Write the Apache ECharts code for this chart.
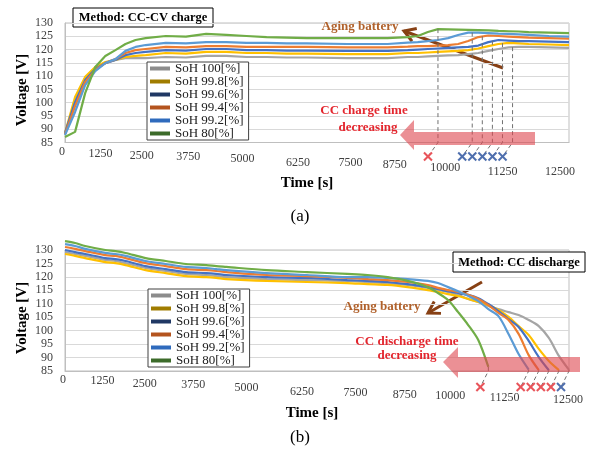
<!DOCTYPE html>
<html>
<head>
<meta charset="utf-8">
<script src="https://cdn.jsdelivr.net/npm/echarts@6/dist/echarts.min.js"></script>
<style>
html, body { margin: 0; padding: 0; background: #fff; }
#chart { width: 589px; height: 449px; }
</style>
</head>
<body>
<div id="chart"></div>
<script>
const sohNames = ['SoH 100[%]', 'SoH 99.8[%]', 'SoH 99.6[%]', 'SoH 99.4[%]', 'SoH 99.2[%]', 'SoH 80[%]'];

// (a) CC-CV charge
const tCharge = [0, 250, 500, 750, 1000, 1250, 1500, 1750, 2000, 2500, 3000, 3500, 4000, 4500, 5000, 5500, 6000, 7000, 8000, 8500, 8750, 9000, 9250, 9500, 9750, 10000, 10250, 10500, 10750, 11000, 11250, 11500, 12000, 12500];
const chargeSoH100 = [88.2, 101.0, 109.3, 113.1, 114.9, 116.1, 116.8, 116.8, 116.8, 117.2, 117.0, 117.6, 117.6, 117.2, 117.2, 117.0, 117.0, 116.8, 116.8, 117.2, 117.2, 117.4, 117.6, 117.8, 117.9, 118.3, 118.7, 119.5, 120.2, 120.8, 121.0, 121.0, 120.8, 120.6];
const chargeSoH998 = [88.6, 102.1, 109.7, 113.4, 115.3, 116.1, 117.2, 117.6, 117.9, 118.7, 118.5, 119.1, 119.1, 118.7, 118.7, 118.5, 118.5, 118.3, 118.3, 118.7, 118.7, 118.9, 119.1, 119.3, 119.5, 119.8, 120.4, 121.3, 122.1, 122.5, 122.3, 122.1, 121.9, 121.7];
const chargeSoH996 = [88.6, 100.2, 108.5, 112.7, 114.9, 116.1, 117.9, 118.7, 119.1, 119.8, 119.6, 120.2, 120.2, 119.8, 119.8, 119.6, 119.6, 119.5, 119.5, 119.8, 120.0, 120.2, 120.4, 120.6, 120.8, 121.0, 121.5, 122.8, 123.6, 123.4, 123.2, 123.2, 123.0, 122.8];
const chargeSoH994 = [88.2, 98.7, 107.8, 112.3, 114.9, 116.4, 118.7, 119.8, 120.2, 121.0, 120.8, 121.3, 121.3, 121.0, 121.0, 121.0, 121.0, 120.8, 120.8, 121.1, 121.3, 121.3, 121.5, 121.7, 122.1, 123.2, 124.7, 125.3, 125.1, 124.9, 124.7, 124.5, 124.3, 124.1];
const chargeSoH992 = [87.8, 96.5, 106.6, 111.9, 114.9, 116.4, 119.5, 121.0, 121.7, 122.5, 122.3, 122.8, 122.8, 122.5, 122.5, 122.3, 122.3, 122.1, 122.1, 122.6, 122.8, 123.2, 123.6, 124.3, 125.5, 126.4, 126.4, 126.2, 126.0, 125.9, 125.7, 125.5, 125.1, 124.9];
const chargeSoH80 = [87.1, 89.0, 103.6, 113.4, 117.6, 119.8, 122.1, 123.6, 124.3, 125.1, 124.9, 125.9, 125.5, 125.1, 124.7, 124.5, 124.3, 124.3, 124.3, 124.7, 125.1, 126.6, 127.7, 127.6, 127.5, 127.4, 127.3, 127.2, 127.0, 126.9, 126.8, 126.6, 126.4, 126.2];
// end of CC stage, order: 80, 99.2, 99.4, 99.6, 99.8, 100
const chargeKneeTime = [9250, 10100, 10350, 10600, 10850, 11100];
const chargeKneeVolt = [127.7, 126.4, 125.0, 123.3, 122.4, 120.9];

// (b) CC discharge
const tDischarge = [0, 250, 500, 1000, 1250, 1500, 2000, 2500, 3000, 3500, 3750, 4000, 5000, 6000, 7000, 7500, 8000, 8500, 9000, 9250, 9500, 9750, 10000, 10250, 10500, 10750, 11000, 11250, 11500, 11750, 12000, 12250, 12500];
const dischargeSoH100 = [129.2, 128.5, 127.8, 126.3, 125.9, 125.1, 123.3, 122.2, 121.1, 120.7, 120.3, 119.9, 119.2, 118.8, 118.5, 118.1, 117.7, 117.0, 115.9, 115.1, 114.4, 113.3, 111.8, 110.7, 109.2, 108.0, 106.9, 105.8, 104.0, 101.7, 97.3, 90.6, 85.4];
const dischargeSoH998 = [128.5, 127.8, 127.0, 125.5, 125.1, 124.4, 122.5, 121.4, 120.3, 119.9, 119.6, 119.2, 118.5, 118.1, 117.7, 117.3, 117.0, 116.2, 115.1, 114.4, 113.6, 112.9, 111.8, 110.7, 109.5, 107.7, 105.1, 101.7, 98.4, 93.2, 88.7, 85.3];
const dischargeSoH996 = [130.0, 129.2, 128.5, 127.0, 126.6, 125.9, 124.0, 122.9, 121.8, 121.4, 121.1, 120.7, 119.9, 119.6, 118.8, 118.5, 118.1, 117.3, 116.2, 115.5, 114.7, 114.0, 113.3, 112.1, 109.9, 107.3, 104.3, 101.4, 96.2, 90.2, 85.3];
const dischargeSoH994 = [131.1, 130.4, 129.6, 128.1, 127.8, 127.0, 125.1, 124.0, 122.9, 122.5, 122.2, 121.8, 120.7, 120.3, 119.6, 119.2, 118.8, 118.1, 117.0, 115.9, 115.1, 114.4, 113.3, 111.8, 109.5, 106.6, 104.0, 98.8, 90.9, 85.3];
const dischargeSoH992 = [132.2, 131.5, 130.4, 128.9, 128.5, 127.8, 125.9, 124.8, 123.7, 123.3, 122.9, 122.5, 121.4, 120.7, 119.9, 119.9, 119.6, 119.2, 118.5, 117.7, 116.2, 114.7, 112.9, 111.0, 108.0, 105.4, 98.8, 91.3, 85.5];
const dischargeSoH80 = [133.3, 132.6, 131.5, 130.0, 129.6, 128.9, 127.0, 125.9, 124.8, 124.4, 124.0, 123.7, 122.5, 121.8, 121.1, 120.7, 119.9, 118.5, 116.2, 114.0, 111.4, 106.9, 102.1, 96.5, 86.5];
// end of discharge, order: 80, 99.2, 99.4, 99.6, 99.8, 100
const dischargeEndTime = [10500, 11500, 11750, 12000, 12250, 12500];
const dischargeEndVolt = [86.5, 85.5, 85.3, 85.3, 85.3, 85.4];

// styles
const serif = '"Liberation Serif", "Times New Roman", serif';
const lineColors = ['#a5a5a5', '#ffc000', '#4472c4', '#ed7d31', '#5b9bd5', '#70ad47'];
const legendColors = ['#8c8c8c', '#a07c00', '#203864', '#b4541e', '#2f6bbd', '#3c6b2a'];
const red = '#e3262e', blue = '#4f6fae', brown = '#874014';
const chargeMarkColors = ['#e8545a', blue, blue, blue, blue, blue];
const dischargeMarkColors = ['#e8545a', '#e8545a', '#e8545a', '#e8545a', '#e8545a', blue];
// label nudges [left, down] to follow the tilted floor of the original
const topLabelShift = [[3, 0], [15, 2], [24, 4], [28, 5], [24, 7], [19, 11], [17, 11], [23, 13], [23, 16], [16, 20], [9, 20]];
const bottomLabelShift = [[2, 0], [13, 1], [21, 4], [23, 5], [20, 8], [15, 12], [12, 13], [13, 15], [18, 16], [14, 18], [1, 20]];

const chart = echarts.init(document.getElementById('chart'));

function xAxis(g, shifts) {
  const rich = {};
  shifts.forEach(([dx, dy], i) => {
    rich['s' + i] = { fontFamily: serif, fontSize: 12, color: '#404040', padding: [dy, dx * 2, 0, 0] };
  });
  return {
    type: 'value', gridIndex: g, min: 0, max: 12500, interval: 1250,
    axisLine: { lineStyle: { color: '#bfbfbf' } },
    axisTick: { show: false },
    splitLine: { show: false },
    axisLabel: { interval: 0, margin: 3, formatter: v => `{s${Math.round(v / 1250)}|${v}}`, rich }
  };
}
function yAxis(g) {
  return {
    type: 'value', gridIndex: g, min: 85, max: 130, interval: 5,
    axisLine: { show: true, lineStyle: { color: '#bfbfbf' } },
    axisTick: { show: false },
    splitLine: { lineStyle: { color: '#d9d9d9' } },
    axisLabel: { margin: 12, fontFamily: serif, fontSize: 12, color: '#404040' }
  };
}
function lineSeries(g, times, vals, i) {
  return {
    type: 'line', name: sohNames[i], xAxisIndex: g, yAxisIndex: g,
    data: vals.map((v, k) => [times[k], v]),
    showSymbol: false, clip: false, smooth: g === 1 ? 0.3 : false,
    lineStyle: { width: 2.2, color: lineColors[i] },
    itemStyle: { color: lineColors[i] },
    emphasis: { disabled: true }
  };
}
function markSeries(g, times, volts, colors, off) {
  return {
    type: 'custom', xAxisIndex: g, yAxisIndex: g, silent: true, z: 4,
    data: times.map((t, k) => [t, volts[k], k]),
    renderItem: (params, api) => {
      const top = api.coord([api.value(0), api.value(1)]);
      const base = api.coord([api.value(0), 85]);
      const m = [base[0] + off[0], base[1] + off[1]];
      const c = colors[api.value(2)];
      return {
        type: 'group', children: [
          { type: 'polyline', shape: { points: [top, base, m] }, style: { stroke: '#707070', lineWidth: 1, lineDash: [4, 3], fill: null } },
          { type: 'line', shape: { x1: m[0] - 4, y1: m[1] - 4, x2: m[0] + 4, y2: m[1] + 4 }, style: { stroke: c, lineWidth: 2 } },
          { type: 'line', shape: { x1: m[0] - 4, y1: m[1] + 4, x2: m[0] + 4, y2: m[1] - 4 }, style: { stroke: c, lineWidth: 2 } }
        ]
      };
    }
  };
}
function legend(left, top) {
  return {
    orient: 'vertical', left, top, padding: [0, 5, 0, 3], itemGap: 0,
    itemWidth: 20, itemHeight: 4, icon: 'rect',
    backgroundColor: '#fff', borderColor: '#404040', borderWidth: 1,
    textStyle: { fontFamily: serif, fontSize: 13, color: '#202020', lineHeight: 13 },
    data: sohNames.map((n, i) => ({ name: n, itemStyle: { color: legendColors[i], borderWidth: 0 } })),
    selectedMode: false
  };
}
function text(x, y, str, size, color, weight, extra) {
  return Object.assign({
    type: 'text', x, y, z: 20,
    style: { text: str, fontFamily: serif, fontSize: size, fontWeight: weight || 'normal', fill: color, align: 'center', verticalAlign: 'middle' }
  }, extra || {});
}
function box(x, y, w, h, str) {
  return {
    type: 'group', z: 20, children: [
      { type: 'rect', shape: { x, y, width: w, height: h }, style: { fill: '#fff', stroke: '#000', lineWidth: 1 } },
      text(x + w / 2, y + h / 2 + 0.5, str, 12.5, '#000', 'bold')
    ]
  };
}
function arrow(x1, y1, x2, y2) {
  const a = Math.atan2(y2 - y1, x2 - x1), L = 13, s = 0.55;
  const w1 = [x2 - L * Math.cos(a - s), y2 - L * Math.sin(a - s)];
  const w2 = [x2 - L * Math.cos(a + s), y2 - L * Math.sin(a + s)];
  return {
    type: 'group', z: 15, children: [
      { type: 'line', shape: { x1, y1, x2, y2 }, style: { stroke: brown, lineWidth: 3 } },
      { type: 'polyline', shape: { points: [w1, [x2, y2], w2] }, style: { stroke: brown, lineWidth: 3, fill: null } }
    ]
  };
}
const arrowFill = 'rgba(222, 70, 78, 0.6)';

chart.setOption({
  animation: false,
  grid: [
    { left: 65, right: 20, top: 23, height: 119.5, show: true, borderColor: '#bfbfbf', borderWidth: 1 },
    { left: 65, right: 20, top: 250, height: 121, show: true, borderColor: '#bfbfbf', borderWidth: 1 }
  ],
  xAxis: [xAxis(0, topLabelShift), xAxis(1, bottomLabelShift)],
  yAxis: [yAxis(0), yAxis(1)],
  legend: [legend(147, 62), legend(148, 289)],
  series: [
    lineSeries(0, tCharge, chargeSoH100, 0),
    lineSeries(0, tCharge, chargeSoH998, 1),
    lineSeries(0, tCharge, chargeSoH996, 2),
    lineSeries(0, tCharge, chargeSoH994, 3),
    lineSeries(0, tCharge, chargeSoH992, 4),
    lineSeries(0, tCharge, chargeSoH80, 5),
    markSeries(0, chargeKneeTime, chargeKneeVolt, chargeMarkColors, [-10, 14]),
    lineSeries(1, tDischarge, dischargeSoH100, 0),
    lineSeries(1, tDischarge, dischargeSoH998, 1),
    lineSeries(1, tDischarge, dischargeSoH996, 2),
    lineSeries(1, tDischarge, dischargeSoH994, 3),
    lineSeries(1, tDischarge, dischargeSoH992, 4),
    lineSeries(1, tDischarge, dischargeSoH80, 5),
    markSeries(1, dischargeEndTime, dischargeEndVolt, dischargeMarkColors, [-8, 16])
  ],
  graphic: [
    text(22, 90, 'Voltage [V]', 15, '#000', 'bold', { rotation: Math.PI / 2 }),
    text(22, 318, 'Voltage [V]', 15, '#000', 'bold', { rotation: Math.PI / 2 }),
    text(307, 183, 'Time [s]', 15, '#000', 'bold'),
    text(312, 413, 'Time [s]', 15, '#000', 'bold'),
    text(300, 217, '(a)', 17, '#000'),
    text(300, 438, '(b)', 17, '#000'),
    box(73, 8, 140, 19, 'Method: CC-CV charge'),
    box(453, 252, 132, 20, 'Method: CC discharge'),
    // charge annotations
    { type: 'polygon', z: 12, shape: { points: [[535, 132], [414, 132], [414, 120], [400, 135], [414, 150], [414, 145], [535, 145]] }, style: { fill: arrowFill } },
    text(364, 111, 'CC charge time', 13, red, 'bold'),
    text(368, 128, 'decreasing', 13, red, 'bold'),
    arrow(503, 68, 404, 31),
    text(360, 27, 'Aging battery', 13, '#b0612b', 'bold'),
    // discharge annotations
    { type: 'polygon', z: 12, shape: { points: [[580, 357], [458, 357], [458, 347], [443, 362], [458, 378], [458, 372], [580, 372]] }, style: { fill: arrowFill } },
    text(407, 342, 'CC discharge time', 13, red, 'bold'),
    text(407, 356, 'decreasing', 13, red, 'bold'),
    arrow(482, 282, 428, 313),
    text(382, 307, 'Aging battery', 13, '#b0612b', 'bold')
  ]
});
</script>
</body>
</html>
